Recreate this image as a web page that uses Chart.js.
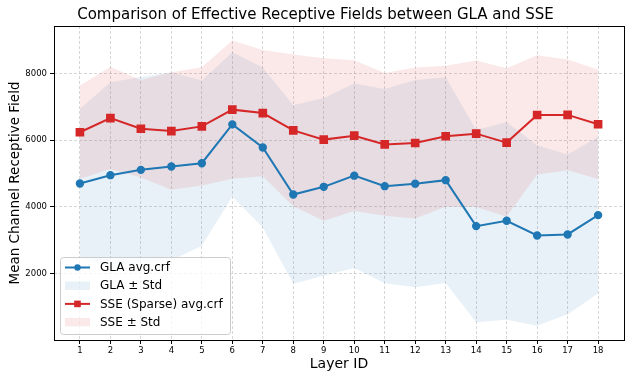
<!DOCTYPE html>
<html>
<head>
<meta charset="utf-8">
<script src="https://cdn.jsdelivr.net/npm/chart.js@4.4.0/dist/chart.umd.min.js"></script>
<style>
  html, body { margin: 0; padding: 0; background: #fff; }
  #wrap { width: 634px; height: 381px; position: relative; }
</style>
</head>
<body>
<div id="wrap"><canvas id="chart"></canvas></div>
<script>
// data
const layers = [1, 2, 3, 4, 5, 6, 7, 8, 9, 10, 11, 12, 13, 14, 15, 16, 17, 18];
const glaMean = [4700, 4950, 5110, 5210, 5310, 6475, 5780, 4370, 4600, 4935, 4620, 4695, 4800, 3420, 3580, 3140, 3170, 3750];
const glaStd = [2240, 2790, 2790, 2820, 2480, 2166, 2400, 2680, 2670, 2770, 2918, 3110, 3090, 2890, 2970, 2710, 2400, 2350];
const sseMean = [6240, 6665, 6345, 6275, 6415, 6918, 6815, 6296, 6018, 6136, 5875, 5915, 6118, 6197, 5928, 6758, 6760, 6480];
const sseStd = [1400, 1530, 1465, 1765, 1777, 2075, 1895, 2280, 2440, 2265, 2140, 2265, 2120, 2200, 2230, 1790, 1665, 1645];
const yTicks = [2000, 4000, 6000, 8000];

const fontFamily = '"DejaVu Sans", sans-serif';
const blue = '#1f77b4';
const red = '#d62728';
const blueFill = 'rgba(31, 119, 180, 0.1)';
const redFill = 'rgba(214, 39, 40, 0.1)';
const gridColor = 'rgba(176, 176, 176, 0.5)';

function pts(mean, std, sign) {
    if (!std)
        return mean.map((m, i) => ({ x: layers[i], y: m }));
    return mean.map((m, i) => ({ x: layers[i], y: m + sign * std[i] }));
}

const legendItems = [
    { kind: 'line', color: blue, marker: 'circle', text: 'GLA avg.crf' },
    { kind: 'patch', color: blueFill, text: 'GLA \u00b1 Std' },
    { kind: 'line', color: red, marker: 'rect', text: 'SSE (Sparse) avg.crf' },
    { kind: 'patch', color: redFill, text: 'SSE \u00b1 Std' }
];

// matplotlib-like legend box in the lower left + full frame
const framePlugin = {
    id: 'framePlugin',
    afterDraw(chart) {
        const ctx = chart.ctx;
        const a = chart.chartArea;
        ctx.save();
        ctx.strokeStyle = '#000';
        ctx.lineWidth = 1;
        ctx.strokeRect(Math.round(a.left) + 0.5, Math.round(a.top) + 0.5,
            Math.round(a.right - a.left), Math.round(a.bottom - a.top));

        const x0 = a.left + 6, y0 = a.bottom - 83, w = 170, h = 77;
        ctx.beginPath();
        ctx.roundRect(x0 + 0.5, y0 + 0.5, w, h, 3);
        ctx.fillStyle = 'rgba(255,255,255,0.8)';
        ctx.fill();
        ctx.strokeStyle = '#cccccc';
        ctx.stroke();

        ctx.font = '12px ' + fontFamily;
        ctx.textBaseline = 'middle';
        ctx.textAlign = 'left';
        legendItems.forEach((it, i) => {
            const y = y0 + 10.5 + i * 18.2;
            const hx = x0 + 5, hw = 25;
            if (it.kind === 'line') {
                ctx.strokeStyle = it.color;
                ctx.lineWidth = 2;
                ctx.beginPath();
                ctx.moveTo(hx, y);
                ctx.lineTo(hx + hw, y);
                ctx.stroke();
                ctx.fillStyle = it.color;
                ctx.beginPath();
                if (it.marker === 'circle')
                    ctx.arc(hx + hw / 2, y, 3.2, 0, Math.PI * 2);
                else
                    ctx.rect(hx + hw / 2 - 3.3, y - 3.3, 6.6, 6.6);
                ctx.fill();
            } else {
                ctx.fillStyle = it.color;
                ctx.fillRect(hx, y - 4.2, hw, 8.4);
            }
            ctx.fillStyle = '#000';
            ctx.fillText(it.text, x0 + 40, y + 0.5);
        });
        ctx.restore();
    }
};

new Chart(document.getElementById('chart'), {
    type: 'line',
    data: {
        datasets: [
            {
                label: 'GLA avg.crf',
                data: pts(glaMean),
                borderColor: blue,
                backgroundColor: blue,
                borderWidth: 2,
                pointRadius: 3.2,
                pointStyle: 'circle',
                fill: false,
                order: 0
            },
            {
                label: 'SSE (Sparse) avg.crf',
                data: pts(sseMean),
                borderColor: red,
                backgroundColor: red,
                borderWidth: 2,
                pointRadius: 4.7,
                pointStyle: 'rect',
                fill: false,
                order: 0
            },
            {
                label: 'GLA upper',
                data: pts(glaMean, glaStd, 1),
                borderWidth: 0,
                pointRadius: 0,
                backgroundColor: blueFill,
                fill: '+1',
                order: 2
            },
            {
                label: 'GLA lower',
                data: pts(glaMean, glaStd, -1),
                borderWidth: 0,
                pointRadius: 0,
                fill: false,
                order: 2
            },
            {
                label: 'SSE upper',
                data: pts(sseMean, sseStd, 1),
                borderWidth: 0,
                pointRadius: 0,
                backgroundColor: redFill,
                fill: '+1',
                order: 1
            },
            {
                label: 'SSE lower',
                data: pts(sseMean, sseStd, -1),
                borderWidth: 0,
                pointRadius: 0,
                fill: false,
                order: 1
            }
        ]
    },
    options: {
        responsive: true,
        maintainAspectRatio: false,
        animation: false,
        layout: { padding: { left: 7, right: 10, top: 0, bottom: 8 } },
        plugins: {
            legend: { display: false },
            tooltip: { enabled: false },
            title: {
                display: true,
                text: 'Comparison of Effective Receptive Fields between GLA and SSE',
                color: '#000',
                font: { family: fontFamily, size: 15, weight: 'normal' },
                padding: { top: 6.5, bottom: 1.5 }
            }
        },
        scales: {
            x: {
                type: 'linear',
                min: 0.15,
                max: 18.85,
                afterBuildTicks: (scale) => { scale.ticks = layers.map(v => ({ value: v })); },
                afterFit: (scale) => { scale.height = 33; },
                border: { display: false, dash: [3, 2] },
                grid: {
                    color: gridColor,
                    tickLength: 4,
                    tickColor: '#000',
                    tickBorderDash: []
                },
                ticks: {
                    color: '#000',
                    padding: 2,
                    maxRotation: 0,
                    font: { family: fontFamily, size: 8.5 },
                    callback: (v) => String(v)
                },
                title: {
                    display: true,
                    text: 'Layer ID',
                    color: '#000',
                    padding: 0,
                    font: { family: fontFamily, size: 14 }
                }
            },
            y: {
                min: 0,
                max: 9430,
                afterBuildTicks: (scale) => { scale.ticks = yTicks.map(v => ({ value: v })); },
                afterFit: (scale) => { scale.width = 47; },
                border: { display: false, dash: [3, 2] },
                grid: {
                    color: gridColor,
                    tickLength: 4,
                    tickColor: '#000',
                    tickBorderDash: []
                },
                ticks: {
                    color: '#000',
                    padding: 3,
                    font: { family: fontFamily, size: 8.5 },
                    callback: (v) => String(v)
                },
                title: {
                    display: true,
                    text: 'Mean Channel Receptive Field',
                    color: '#000',
                    padding: 0,
                    font: { family: fontFamily, size: 13.5 }
                }
            }
        }
    },
    plugins: [framePlugin]
});
</script>
</body>
</html>
